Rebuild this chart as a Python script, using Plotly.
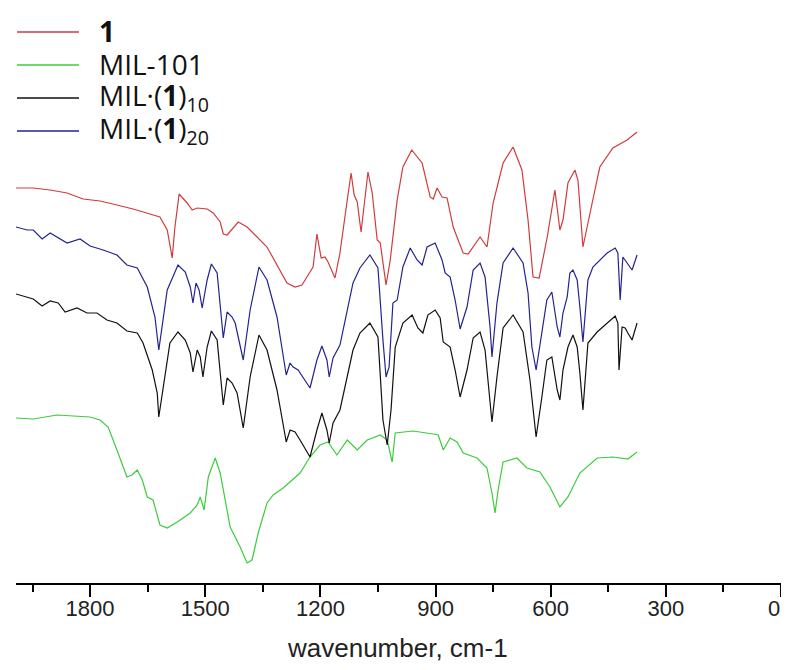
import plotly.graph_objects as go

# ---------------- data (wavenumber in cm-1, transmittance in arbitrary offset units) ----------------
wn_1 = [1993, 1948, 1904, 1860, 1818, 1774, 1730, 1688, 1644, 1618, 1599, 1586, 1579, 1568, 1547, 1534,
        1521, 1495, 1479, 1461, 1453, 1443, 1414, 1391, 1339, 1287, 1266, 1248, 1227, 1219, 1209, 1198,
        1188, 1180, 1162, 1149, 1130, 1120, 1112, 1104, 1094, 1086, 1076, 1065, 1052, 1044, 1029, 1018,
        1000, 985, 962, 935, 914, 906, 896, 883, 870, 854, 828, 815, 784, 766, 750, 724, 698, 675, 659,
        646, 630, 609, 589, 576, 568, 555, 537, 529, 516, 492, 472, 438, 401, 375]
t_1 = [395, 395, 393, 390, 384, 382, 378, 374, 369, 366, 353, 325, 356, 389, 380, 373,
       375, 374, 370, 361, 349, 348, 361, 356, 336, 300, 296, 298, 311, 316, 349, 325,
       326, 321, 305, 330, 383, 410, 388, 381, 351, 380, 411, 390, 343, 340, 298, 323,
       383, 416, 433, 420, 386, 384, 395, 386, 385, 356, 330, 329, 346, 336, 380, 420, 436, 413, 363,
       306, 305, 346, 393, 353, 363, 400, 413, 403, 336, 380, 416, 435, 443, 451]

wn_mil = [1993, 1948, 1886, 1800, 1774, 1753, 1730, 1704, 1691, 1677, 1664, 1651, 1636, 1618, 1599, 1573,
          1539, 1521, 1513, 1503, 1492, 1474, 1461, 1435, 1409, 1391, 1378, 1362, 1339, 1323, 1297, 1253,
          1227, 1201, 1180, 1157, 1130, 1104, 1078, 1044, 1026, 1013, 1005, 959, 906, 893, 880, 862, 844,
          828, 792, 766, 753, 745, 737, 724, 688, 662, 628, 602, 576, 555, 524, 479, 438, 399, 375]
t_mil = [165, 164, 168, 166, 163, 156, 133, 106, 108, 113, 103, 86, 83, 58, 55, 61,
         70, 78, 86, 73, 106, 125, 110, 56, 36, 20, 23, 50, 80, 88, 95, 110,
         126, 138, 141, 128, 143, 133, 143, 148, 143, 121, 150, 152, 149, 148, 133, 145, 141,
         130, 125, 115, 90, 70, 93, 121, 125, 115, 111, 96, 76, 86, 110, 125, 126, 124, 131]

wn_10 = [1993, 1964, 1948, 1925, 1904, 1883, 1865, 1834, 1808, 1782, 1756, 1730, 1704, 1677, 1662, 1638,
         1625, 1621, 1610, 1592, 1571, 1552, 1539, 1532, 1521, 1513, 1506, 1495, 1484, 1469, 1453, 1443,
         1430, 1417, 1401, 1383, 1360, 1339, 1313, 1289, 1279, 1266, 1253, 1227, 1209, 1196, 1183, 1177,
         1167, 1149, 1115, 1097, 1071, 1050, 1037, 1026, 1016, 1005, 985, 961, 946, 933, 920, 901, 888,
         880, 862, 849, 836, 818, 802, 784, 771, 753, 740, 724, 698, 672, 654, 638, 623, 610, 597, 583,
         576, 568, 555, 542, 531, 524, 516, 503, 479, 453, 432, 425, 422, 414, 406, 399, 388, 375]
t_10 = [289, 286, 284, 277, 282, 280, 271, 275, 270, 270, 263, 260, 252, 250, 240, 213,
        190, 166, 196, 240, 251, 243, 230, 211, 233, 226, 206, 236, 252, 243, 178, 205,
        200, 190, 155, 206, 248, 233, 193, 141, 153, 151, 143, 126, 153, 170, 153, 140,
        160, 173, 233, 250, 260, 246, 163, 138, 173, 236, 260, 268, 255, 250, 268, 273, 265,
        241, 236, 213, 186, 213, 245, 251, 233, 161, 206, 255, 268, 251, 203, 146, 186, 223, 226, 193,
        183, 213, 236, 248, 236, 210, 173, 240, 251, 260, 267, 260, 213, 256, 255, 250, 243, 260]

wn_20 = [1993, 1964, 1948, 1925, 1904, 1860, 1826, 1800, 1766, 1730, 1704, 1677, 1651, 1631, 1621, 1599,
         1571, 1552, 1539, 1532, 1524, 1516, 1508, 1495, 1484, 1469, 1453, 1443, 1430, 1422, 1401, 1383,
         1360, 1339, 1313, 1289, 1279, 1271, 1258, 1227, 1209, 1196, 1183, 1177, 1167, 1149, 1115, 1097,
         1071, 1050, 1037, 1029, 1021, 1011, 1000, 985, 966, 948, 935, 922, 901, 883, 875, 862, 849, 836,
         818, 802, 784, 771, 758, 753, 740, 724, 698, 672, 659, 649, 638, 623, 610, 597, 583, 576, 568,
         557, 550, 542, 531, 524, 516, 503, 490, 453, 432, 425, 419, 412, 401, 388, 375]
t_20 = [356, 353, 353, 344, 350, 340, 344, 337, 333, 328, 318, 315, 296, 266, 233, 293,
        318, 311, 296, 280, 300, 293, 275, 303, 319, 310, 245, 271, 266, 260, 223, 273,
        316, 303, 266, 208, 220, 216, 213, 195, 223, 237, 223, 206, 225, 238, 300, 315,
        328, 315, 243, 206, 216, 280, 283, 316, 335, 323, 318, 336, 340, 323, 310, 306, 283, 254,
        276, 313, 320, 306, 256, 226, 280, 320, 335, 320, 290, 236, 213, 250, 283, 291, 256, 246, 270,
        286, 310, 313, 303, 276, 241, 303, 316, 330, 335, 330, 283, 326, 320, 313, 328]

series_names = ["<b>1</b>", "MIL-101", "MIL·(<b>1</b>)<sub>10</sub>", "MIL·(<b>1</b>)<sub>20</sub>"]
series_x = [wn_1, wn_mil, wn_10, wn_20]
series_y = [t_1, t_mil, t_10, t_20]
series_colors = ["#d03c3c", "#3ccc3c", "#111111", "#23238f"]

x_ticks = [1800, 1500, 1200, 900, 600, 300, 0]
x_ticktext = ["1800", "1500", "1200", "900", "600", "300", ""]   # the "0" label is drawn separately
x_minor = [1950, 1650, 1350, 1050, 750, 450, 150]
x_range = [1993, 0]
y_range = [0, 575]

fig = go.Figure()
for name, xs, ys, col in zip(series_names, series_x, series_y, series_colors):
    fig.add_trace(go.Scatter(x=xs, y=ys, mode="lines", name=name,
                             line=dict(color=col, width=1.2), showlegend=False,
                             hoverinfo="skip"))

# page has an 8px body margin: layout coordinates below are given in screen pixels
OFF = 8
PL, PR, PT, PB = 16, 781, 8, 583   # plot area edges on screen


def px(xs):
    return (xs - PL) / (PR - PL)


def py(ys):
    return (PB - ys) / (PB - PT)


legend_rows = [32, 65, 98, 131]
for name, col, yrow in zip(series_names, series_colors, legend_rows):
    fig.add_shape(type="line", xref="paper", yref="paper",
                  x0=px(17), x1=px(79), y0=py(yrow), y1=py(yrow),
                  line=dict(color=col, width=1.3))
    fig.add_annotation(xref="paper", yref="paper", x=px(97), y=py(yrow - 1),
                       text=name, showarrow=False, xanchor="left", yanchor="middle",
                       font=dict(family="Open Sans, Segoe UI, Arial", size=28, color="#111"))

tick_font = dict(family="Liberation Sans Narrow, Arial Narrow, Liberation Sans, Arial",
                 size=22, color="#222")
# last tick label, kept inside the page edge
fig.add_annotation(xref="paper", yref="paper", x=1.0, y=py(608),
                   text=str(x_ticks[-1]), showarrow=False, xanchor="right", yanchor="middle",
                   borderpad=0, font=tick_font)

fig.add_annotation(xref="paper", yref="paper", x=px(397), y=py(648),
                   text="wavenumber, cm-1", showarrow=False, xanchor="center", yanchor="middle",
                   font=dict(family="Liberation Sans, Arial", size=26, color="#222"))

W, H = 789 - 2 * OFF, 670 - 2 * OFF
fig.update_layout(
    width=W, height=H,
    margin=dict(l=PL - OFF, r=W - (PR - OFF), t=PT - OFF, b=H - (PB - OFF), autoexpand=False),
    paper_bgcolor="white", plot_bgcolor="white",
    showlegend=False,
    xaxis=dict(range=x_range, tickvals=x_ticks, ticktext=x_ticktext, ticks="outside",
               ticklen=12, tickwidth=2,
               tickcolor="black", showline=True, linecolor="black", linewidth=2,
               showgrid=False, zeroline=False, ticklabeloverflow="allow",
               ticklabelstandoff=-7, tickfont=tick_font,
               minor=dict(tickvals=x_minor, ticks="outside", ticklen=7, tickwidth=1.5,
                          tickcolor="black", showgrid=False)),
    yaxis=dict(range=y_range, visible=False),
)

fig.write_html("out.html")
